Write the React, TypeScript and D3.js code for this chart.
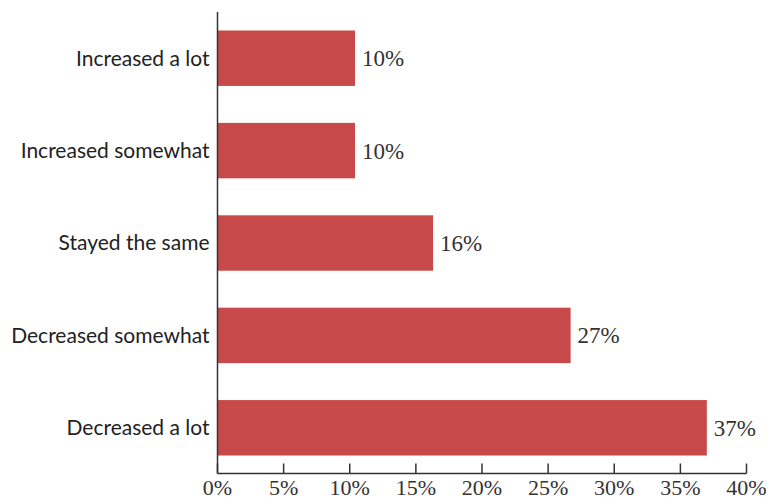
import React from "react";
import * as d3 from "d3";

const categories = [
  "Increased a lot",
  "Increased somewhat",
  "Stayed the same",
  "Decreased somewhat",
  "Decreased a lot",
];
const values = [10.4, 10.4, 16.3, 26.7, 37.0];
const valueLabels = ["10%", "10%", "16%", "27%", "37%"];
const xTicks = [0, 5, 10, 15, 20, 25, 30, 35, 40];

const W = 773;
const H = 501;

export default function App() {
  const x = d3.scaleLinear().domain([0, 40]).range([217.5, 746.5]);
  const y = d3
    .scaleBand<string>()
    .domain(categories)
    .range([12, 474])
    .paddingInner(0.4)
    .paddingOuter(0.2);
  const axisY = 473.5;
  const sans = "Lato, 'Open Sans', sans-serif";
  const serif = "'Liberation Serif', 'DejaVu Serif', serif";
  return (
    <svg
      width={W}
      height={H}
      style={{ position: "absolute", left: 0, top: 0, background: "#fff" }}
    >
      {categories.map((c, i) => {
        const yy = y(c)!;
        const bw = y.bandwidth();
        return (
          <g key={c}>
            <rect
              x={x(0)}
              y={yy}
              width={x(values[i]) - x(0)}
              height={bw}
              fill="#C8494A"
            />
            <text
              x={x(0) - 8}
              y={yy + bw / 2}
              dy="0.35em"
              textAnchor="end"
              fontFamily={sans}
              fontSize={21}
              fill="#222"
            >
              {c}
            </text>
            <text
              x={x(values[i]) + 7}
              y={yy + bw / 2}
              dy="0.35em"
              textAnchor="start"
              fontFamily={serif}
              fontSize={23}
              fill="#333"
            >
              {valueLabels[i]}
            </text>
          </g>
        );
      })}
      <line x1={x(0)} x2={x(0)} y1={12} y2={axisY} stroke="#333" strokeWidth={1.5} />
      <line x1={x(0)} x2={x(40)} y1={axisY} y2={axisY} stroke="#333" strokeWidth={1.5} />
      {xTicks.map((t) => (
        <g key={t}>
          <line x1={x(t)} x2={x(t)} y1={axisY} y2={axisY - 10} stroke="#333" strokeWidth={1.5} />
          <text
            x={x(t)}
            y={495}
            textAnchor="middle"
            fontFamily={serif}
            fontSize={22}
            fill="#333"
          >
            {t + "%"}
          </text>
        </g>
      ))}
    </svg>
  );
}
